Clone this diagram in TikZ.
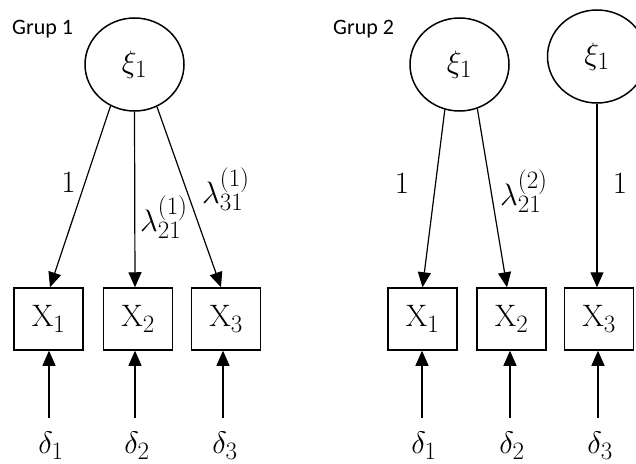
\RequirePackage{fix-cm}
\documentclass[tikz,border=0pt]{standalone}
\usepackage{fontspec}
\newfontfamily\grupfont{Carlito}
\usetikzlibrary{shapes.geometric,arrows.meta}
\DeclareMathSizes{31}{31}{25}{20}
\newcommand\bigmath{\fontsize{31}{36}\selectfont}
\begin{document}
\begin{tikzpicture}[x=1pt,y=-1pt,
  latent/.style={ellipse,draw,line width=1.5pt,minimum width=99pt,minimum height=93pt,inner sep=0pt,font=\bigmath},
  obs/.style={rectangle,draw,line width=1.5pt,minimum width=69pt,minimum height=62pt,inner sep=0pt,fill=white,font=\bigmath},
  arr/.style={line width=1.2pt,-{Triangle[length=15pt,width=13pt]}},
  lbl/.style={inner sep=0pt,font=\bigmath},
  err/.style={inner sep=0pt,anchor=north,font=\bigmath},
  grp/.style={inner sep=0pt,anchor=base west,font=\grupfont\fontsize{22}{26}\selectfont},
]
\useasboundingbox (0,0) rectangle (636,463);

% group labels
\node[grp] (g1) at (12,34.5) {Grup 1};
\node[grp] (g2) at (333,34.5) {Grup 2};

% latent variables
\node[latent] (c1) at (134.5,64.5) {$\xi_1$};
\node[latent] (c2) at (459.5,64.5) {$\xi_1$};
\node[latent] (c3) at (597,56.5) {$\xi_1$};

% observed variables
\node[obs] (b11) at (48.5,319) {$\mathrm{X}_1$};
\node[obs] (b12) at (138,319) {$\mathrm{X}_2$};
\node[obs] (b13) at (226,319) {$\mathrm{X}_3$};
\node[obs] (b21) at (422.5,319) {$\mathrm{X}_1$};
\node[obs] (b22) at (511.5,319) {$\mathrm{X}_2$};
\node[obs] (b23) at (599,319) {$\mathrm{X}_3$};

% errors
\node[err] (d11) at (51,432) {$\delta_1$};
\node[err] (d12) at (137,432) {$\delta_2$};
\node[err] (d13) at (225,432) {$\delta_3$};
\node[err] (d21) at (424,432) {$\delta_1$};
\node[err] (d22) at (512,432) {$\delta_2$};
\node[err] (d23) at (600,432) {$\delta_3$};

% loadings
\draw[arr] (c1.240) -- ([xshift=1.5pt]b11.north);
\draw[arr] (c1.270) -- ([xshift=-3pt]b12.north);
\draw[arr] (c1.298) -- ([xshift=-5pt]b13.north);
\draw[arr] (c2.252) -- (b21.north);
\draw[arr] (c2.292) -- ([xshift=-4.5pt]b22.north);
\draw[arr] (c3.270) -- ([xshift=-2pt]b23.north);

% error arrows
\draw[arr,shorten <=14pt] ([xshift=-2pt]d11.north) -- ([xshift=0.5pt]b11.south);
\draw[arr,shorten <=14pt] ([xshift=-2pt]d12.north) -- ([xshift=-3pt]b12.south);
\draw[arr,shorten <=14pt] ([xshift=-2pt]d13.north) -- ([xshift=-3pt]b13.south);
\draw[arr,shorten <=14pt] ([xshift=-2pt]d21.north) -- ([xshift=-0.5pt]b21.south);
\draw[arr,shorten <=14pt] ([xshift=-2pt]d22.north) -- ([xshift=-1.5pt]b22.south);
\draw[arr,shorten <=14pt] ([xshift=-2pt]d23.north) -- ([xshift=-1pt]b23.south);

% loading labels
\node[lbl] (l11) at (68.5,183) {$1$};
\node[lbl,anchor=west] (l12) at (140,217) {$\lambda_{21}^{(1)}$};
\node[lbl,anchor=west] (l13) at (202,189) {$\lambda_{31}^{(1)}$};
\node[lbl] (l21) at (402,184) {$1$};
\node[lbl,anchor=west] (l22) at (500,191) {$\lambda_{21}^{(2)}$};
\node[lbl] (l23) at (620,184) {$1$};
\end{tikzpicture}
\end{document}
